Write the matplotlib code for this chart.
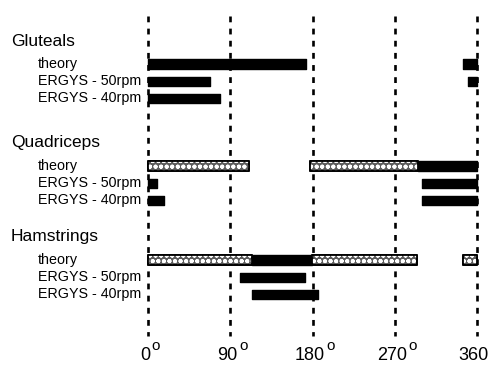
import matplotlib
matplotlib.use("Agg")
import matplotlib.pyplot as plt
from matplotlib.transforms import offset_copy

plt.rcParams['font.family'] = ['Liberation Sans', 'DejaVu Sans']
plt.rcParams['hatch.linewidth'] = 1.3

# Crank-angle ticks (degrees)
angle_ticks = [0, 90, 180, 270, 360]
angle_labels = ["0", "90", "180", "270", "360"]
angle_has_degree = [True, True, True, True, False]

muscles = ["Gluteals", "Quadriceps", "Hamstrings"]
row_names = ["theory", "ERGYS - 50rpm", "ERGYS - 40rpm"]

# Activation intervals (start, end) in degrees of crank angle
glut_theory_solid = [(0, 173), (345, 360)]
glut_theory_stippled = []
glut_50 = [(0, 68), (350, 360)]
glut_40 = [(0, 79)]

quad_theory_solid = [(295, 360)]
quad_theory_stippled = [(0, 111), (177, 295)]
quad_50 = [(0, 10), (300, 360)]
quad_40 = [(0, 18), (300, 360)]

ham_theory_solid = [(114, 179)]
ham_theory_stippled = [(0, 114), (179, 294), (345, 360)]
ham_50 = [(101, 172)]
ham_40 = [(114, 186)]

groups = [
    (glut_theory_solid, glut_theory_stippled, glut_50, glut_40),
    (quad_theory_solid, quad_theory_stippled, quad_50, quad_40),
    (ham_theory_solid, ham_theory_stippled, ham_50, ham_40),
]

# Layout (vertical positions in figure pixel rows, top = 0)
W, H = 497, 367
group_base = [64, 166, 260]
row_step = 17
bar_h = 9
x0_px, x1_px = 148, 477
top_px, bot_px = 16, 336

fig = plt.figure(figsize=(W / 100, H / 100), dpi=100)
ax = fig.add_axes([x0_px / W, (H - bot_px) / H, (x1_px - x0_px) / W,
                   (bot_px - top_px) / H])
ax.set_xlim(0, 360)
ax.set_ylim(bot_px, top_px)
ax.axis('off')

# Dashed reference lines
ax.vlines(angle_ticks, top_px, bot_px, colors='black', linewidth=1.9,
          linestyles=(0, (2.2, 2.4)), zorder=1, clip_on=False)


def spans(segs):
    return [(a, b - a) for a, b in segs]


for gi, (solid, stip, r50, r40) in enumerate(groups):
    yb = group_base[gi]
    # theory row
    if stip:
        ax.broken_barh(spans(stip), (yb - bar_h / 2 - 0.5, bar_h + 1),
                       facecolors='#5a5a5a', edgecolors='black', linewidth=1.2,
                       zorder=3, clip_on=False)
        ax.broken_barh(spans(stip), (yb - bar_h / 2 - 0.5, bar_h + 1),
                       facecolors='none', edgecolors='white', hatch='ooo',
                       linewidth=0, zorder=4, clip_on=False)
        ax.broken_barh(spans(stip), (yb - bar_h / 2 - 0.5, bar_h + 1),
                       facecolors='none', edgecolors='black', linewidth=1.3,
                       zorder=5, clip_on=False)
    if solid:
        ax.broken_barh(spans(solid), (yb - bar_h / 2 - 0.5, bar_h + 1),
                       facecolors='black', edgecolors='black', linewidth=1,
                       zorder=3, clip_on=False)
    for k, segs in enumerate([r50, r40]):
        yc = yb + row_step * (k + 1)
        ax.broken_barh(spans(segs), (yc - bar_h / 2, bar_h),
                       facecolors='black', edgecolors='black', linewidth=1,
                       zorder=3, clip_on=False)


def fx(px):
    return px / W


def fy(py):
    return 1 - py / H


for gi, name in enumerate(muscles):
    yb = group_base[gi]
    fig.text(fx(11), fy(yb - 23), name, fontsize=12.5, va='center', ha='left')
    for k, rn in enumerate(row_names):
        fig.text(fx(38), fy(yb + row_step * k), rn, fontsize=10.3,
                 va='center', ha='left')

# Angle labels with a raised degree "o"
renderer = fig.canvas.get_renderer()
for t, lab, deg in zip(angle_ticks, angle_labels, angle_has_degree):
    shift = -3 if deg else -4
    txt = ax.text(t, 360, lab, fontsize=13, ha='center', va='baseline',
                  clip_on=False,
                  transform=offset_copy(ax.transData, fig=fig, x=shift,
                                        y=0, units='dots'))
    if deg:
        bb = txt.get_window_extent(renderer)
        fig.text(bb.x1 / fig.bbox.width + 1.5 / W, fy(360 - 10), "o",
                 fontsize=11, ha='left', va='baseline')

fig.savefig("out.png", dpi=100, facecolor='white')
